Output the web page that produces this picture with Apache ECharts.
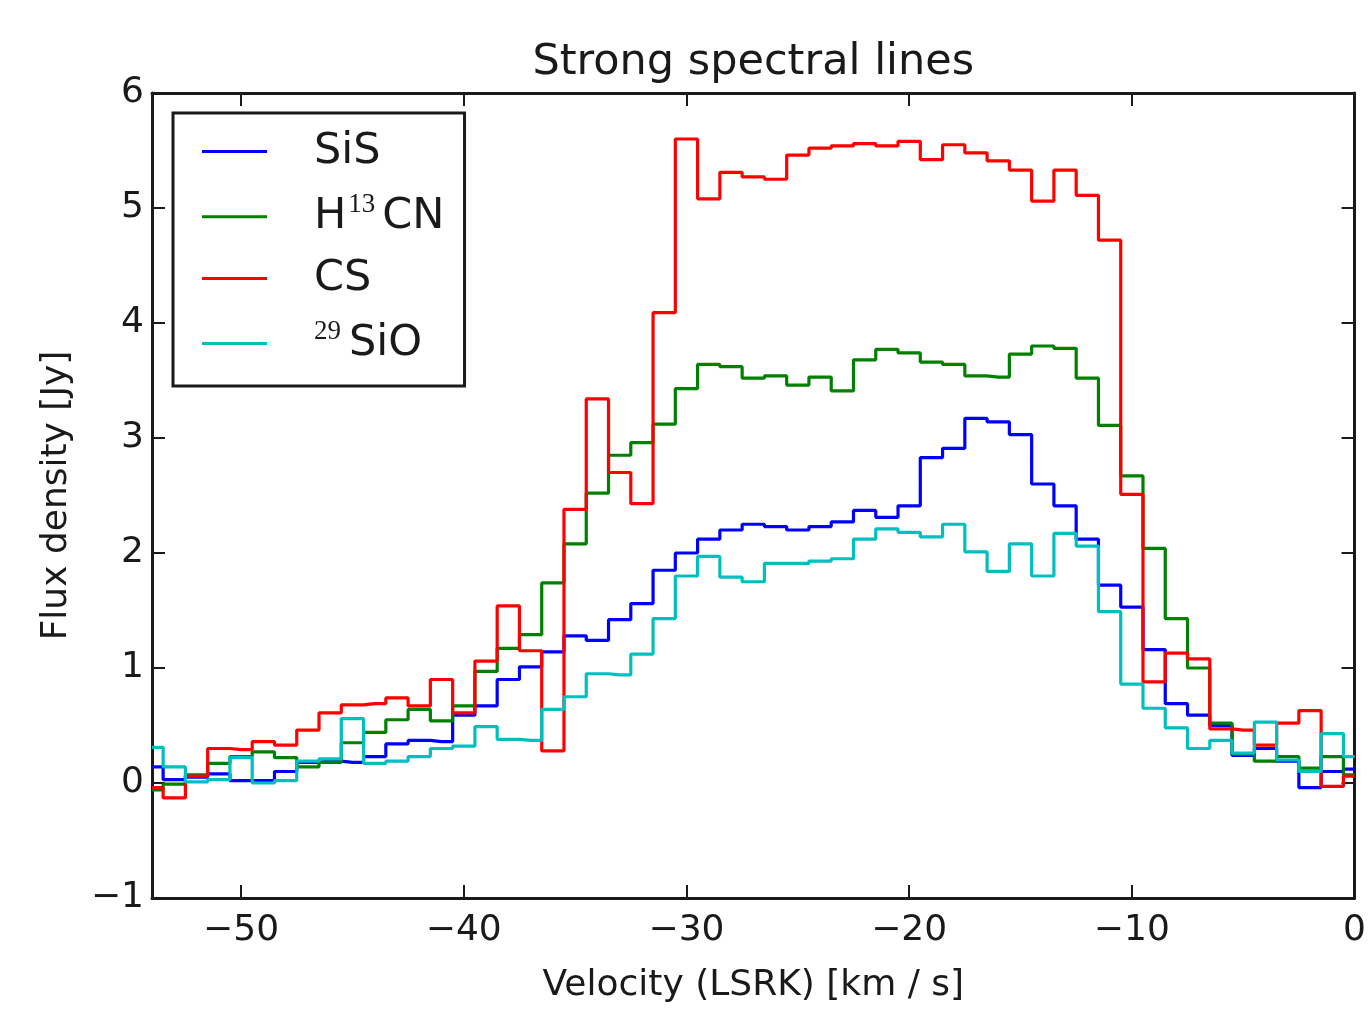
<!DOCTYPE html>
<html>
<head>
<meta charset="utf-8">
<script src="https://cdn.jsdelivr.net/npm/echarts@6/dist/echarts.min.js"></script>
<style>
  html, body { margin: 0; padding: 0; background: #fff; }
  #chart { width: 1369px; height: 1010px; }
</style>
</head>
<body>
<div id="chart"></div>
<script>
// Velocity bin centres (km/s)
const velocity = [-54,-53,-52,-51,-50,-49,-48,-47,-46,-45,-44,-43,-42,-41,-40,-39,-38,-37,-36,-35,
  -34,-33,-32,-31,-30,-29,-28,-27,-26,-25,-24,-23,-22,-21,-20,-19,-18,-17,-16,-15,-14,-13,-12,-11,-10,
  -9,-8,-7,-6,-5,-4,-3,-2,-1,0];

// Flux density (Jy)
const sis = [0.14,0.03,0.05,0.08,0.02,0.02,0.10,0.18,0.19,0.18,0.23,0.34,0.37,0.36,0.59,0.67,0.90,1.01,1.14,1.28,
  1.24,1.42,1.56,1.85,2.00,2.12,2.20,2.25,2.23,2.20,2.23,2.27,2.37,2.31,2.41,2.83,2.91,3.17,3.14,3.03,2.60,2.41,2.12,1.72,1.53,
  1.16,0.69,0.59,0.50,0.24,0.30,0.19,-0.04,0.10,0.12];
const h13cn = [-0.06,-0.01,0.07,0.17,0.23,0.27,0.22,0.14,0.18,0.35,0.44,0.55,0.64,0.54,0.67,0.97,1.17,1.29,1.74,2.08,
  2.52,2.85,2.96,3.12,3.43,3.64,3.62,3.52,3.54,3.46,3.53,3.41,3.68,3.77,3.74,3.66,3.64,3.54,3.53,3.73,3.80,3.78,3.52,3.11,2.67,
  2.04,1.43,1.00,0.52,0.25,0.19,0.23,0.13,0.23,0.07];
const cs = [-0.04,-0.13,0.06,0.30,0.29,0.36,0.33,0.46,0.61,0.68,0.69,0.74,0.67,0.90,0.61,1.06,1.54,1.15,0.28,2.38,
  3.34,2.70,2.43,4.09,5.60,5.08,5.31,5.27,5.25,5.46,5.52,5.54,5.56,5.54,5.58,5.42,5.55,5.48,5.41,5.33,5.06,5.33,5.11,4.72,2.51,
  0.88,1.13,1.08,0.47,0.46,0.33,0.52,0.63,-0.03,0.06];
const sio29 = [0.31,0.14,0.01,0.03,0.22,0.00,0.02,0.19,0.21,0.56,0.17,0.19,0.23,0.30,0.32,0.49,0.38,0.37,0.64,0.75,
  0.95,0.94,1.12,1.43,1.80,1.97,1.79,1.75,1.91,1.91,1.93,1.95,2.12,2.21,2.18,2.14,2.25,2.01,1.84,2.08,1.80,2.17,2.06,1.49,0.86,
  0.65,0.48,0.30,0.37,0.26,0.53,0.20,0.10,0.43,0.23];

const seriesNames = ['SiS', 'H13CN', 'CS', '29SiO'];
const seriesValues = [sis, h13cn, cs, sio29];
const seriesColors = ['#0000ff', '#008000', '#ff0000', '#00bfbf'];

const xTicks = [-50, -40, -30, -20, -10, 0];
const yTicks = [-1, 0, 1, 2, 3, 4, 5, 6];

const FONT = 'DejaVu Sans';
const SPINE = '#1a1a1a';
const TEXT = '#1a1a1a';
const minus = v => (v < 0 ? '\u2212' + Math.abs(v) : String(v));

const legendLabels = {
  'SiS': '{p|}{n|SiS}',
  'H13CN': '{p|}{n|H}{s|13}{n|CN}',
  'CS': '{p|}{n|CS}',
  '29SiO': '{p|}{s0|29}{n|SiO}'
};

const chart = echarts.init(document.getElementById('chart'), null, { renderer: 'canvas' });

const baseX = {
  type: 'value', min: -54, max: 0,
  axisLine: { show: true, onZero: false, lineStyle: { color: SPINE, width: 3 } },
  axisTick: { show: true, inside: true, length: 13, lineStyle: { color: SPINE, width: 2 } },
  splitLine: { show: false }
};
const baseY = {
  type: 'value', min: -1, max: 6, interval: 1,
  axisLine: { show: true, onZero: false, lineStyle: { color: SPINE, width: 3 } },
  axisTick: { show: true, inside: true, length: 13, lineStyle: { color: SPINE, width: 2 } },
  splitLine: { show: false }
};

const supStyle = { fontFamily: 'Liberation Serif', fontSize: 27, lineHeight: 32, verticalAlign: 'top', color: TEXT };

chart.setOption({
  animation: false,
  backgroundColor: '#fff',
  textStyle: { fontFamily: FONT },
  grid: { left: 152, right: 7, top: 93, bottom: 112, containLabel: false },
  legend: {
    orient: 'vertical',
    left: 173, top: 113,
    selectedMode: false,
    icon: 'rect',
    itemWidth: 65, itemHeight: 3,
    itemGap: 18.7,
    padding: [17, 20, 21, 29],
    borderColor: SPINE, borderWidth: 3,
    backgroundColor: '#fff',
    data: seriesNames,
    formatter: name => legendLabels[name],
    textStyle: {
      fontFamily: FONT, fontSize: 43, color: TEXT,
      rich: {
        p: { width: 42, height: 50 },
        n: { fontFamily: FONT, fontSize: 43, lineHeight: 50, color: TEXT },
        s: Object.assign({}, supStyle, { padding: [0, 7, 0, 2] }),
        s0: Object.assign({}, supStyle, { padding: [0, 8, 0, 0] })
      }
    }
  },
  xAxis: [
    Object.assign({}, baseX, {
      position: 'bottom',
      axisLabel: {
        fontSize: 36, color: TEXT, fontFamily: FONT, margin: 15,
        formatter: v => (xTicks.indexOf(v) >= 0 ? minus(v) : '')
      },
      name: 'Velocity (LSRK) [km / s]',
      nameLocation: 'middle', nameGap: 70,
      nameTextStyle: { fontSize: 36, color: TEXT, fontFamily: FONT }
    }),
    Object.assign({}, baseX, {
      position: 'top',
      axisLabel: { show: false },
      name: 'Strong spectral lines',
      nameLocation: 'middle', nameGap: 9,
      nameTextStyle: { fontSize: 43, color: TEXT, fontFamily: FONT }
    })
  ],
  yAxis: [
    Object.assign({}, baseY, {
      position: 'left',
      axisLabel: {
        fontSize: 36, color: TEXT, fontFamily: FONT, margin: 8,
        formatter: v => (yTicks.indexOf(v) >= 0 ? minus(v) : '')
      },
      name: 'Flux density [Jy]',
      nameLocation: 'middle', nameGap: 77, nameRotate: 90,
      nameTextStyle: { fontSize: 36, color: TEXT, fontFamily: FONT }
    }),
    Object.assign({}, baseY, {
      position: 'right',
      axisLabel: { show: false }
    })
  ],
  series: seriesNames.map((name, i) => ({
    name: name,
    type: 'line',
    step: 'middle',
    xAxisIndex: 0, yAxisIndex: 0,
    showSymbol: false, symbol: 'none',
    color: seriesColors[i],
    itemStyle: { color: seriesColors[i] },
    lineStyle: { color: seriesColors[i], width: 3.2 },
    emphasis: { disabled: true },
    clip: true,
    data: velocity.map((v, j) => [v, seriesValues[i][j]])
  }))
});
</script>
</body>
</html>
